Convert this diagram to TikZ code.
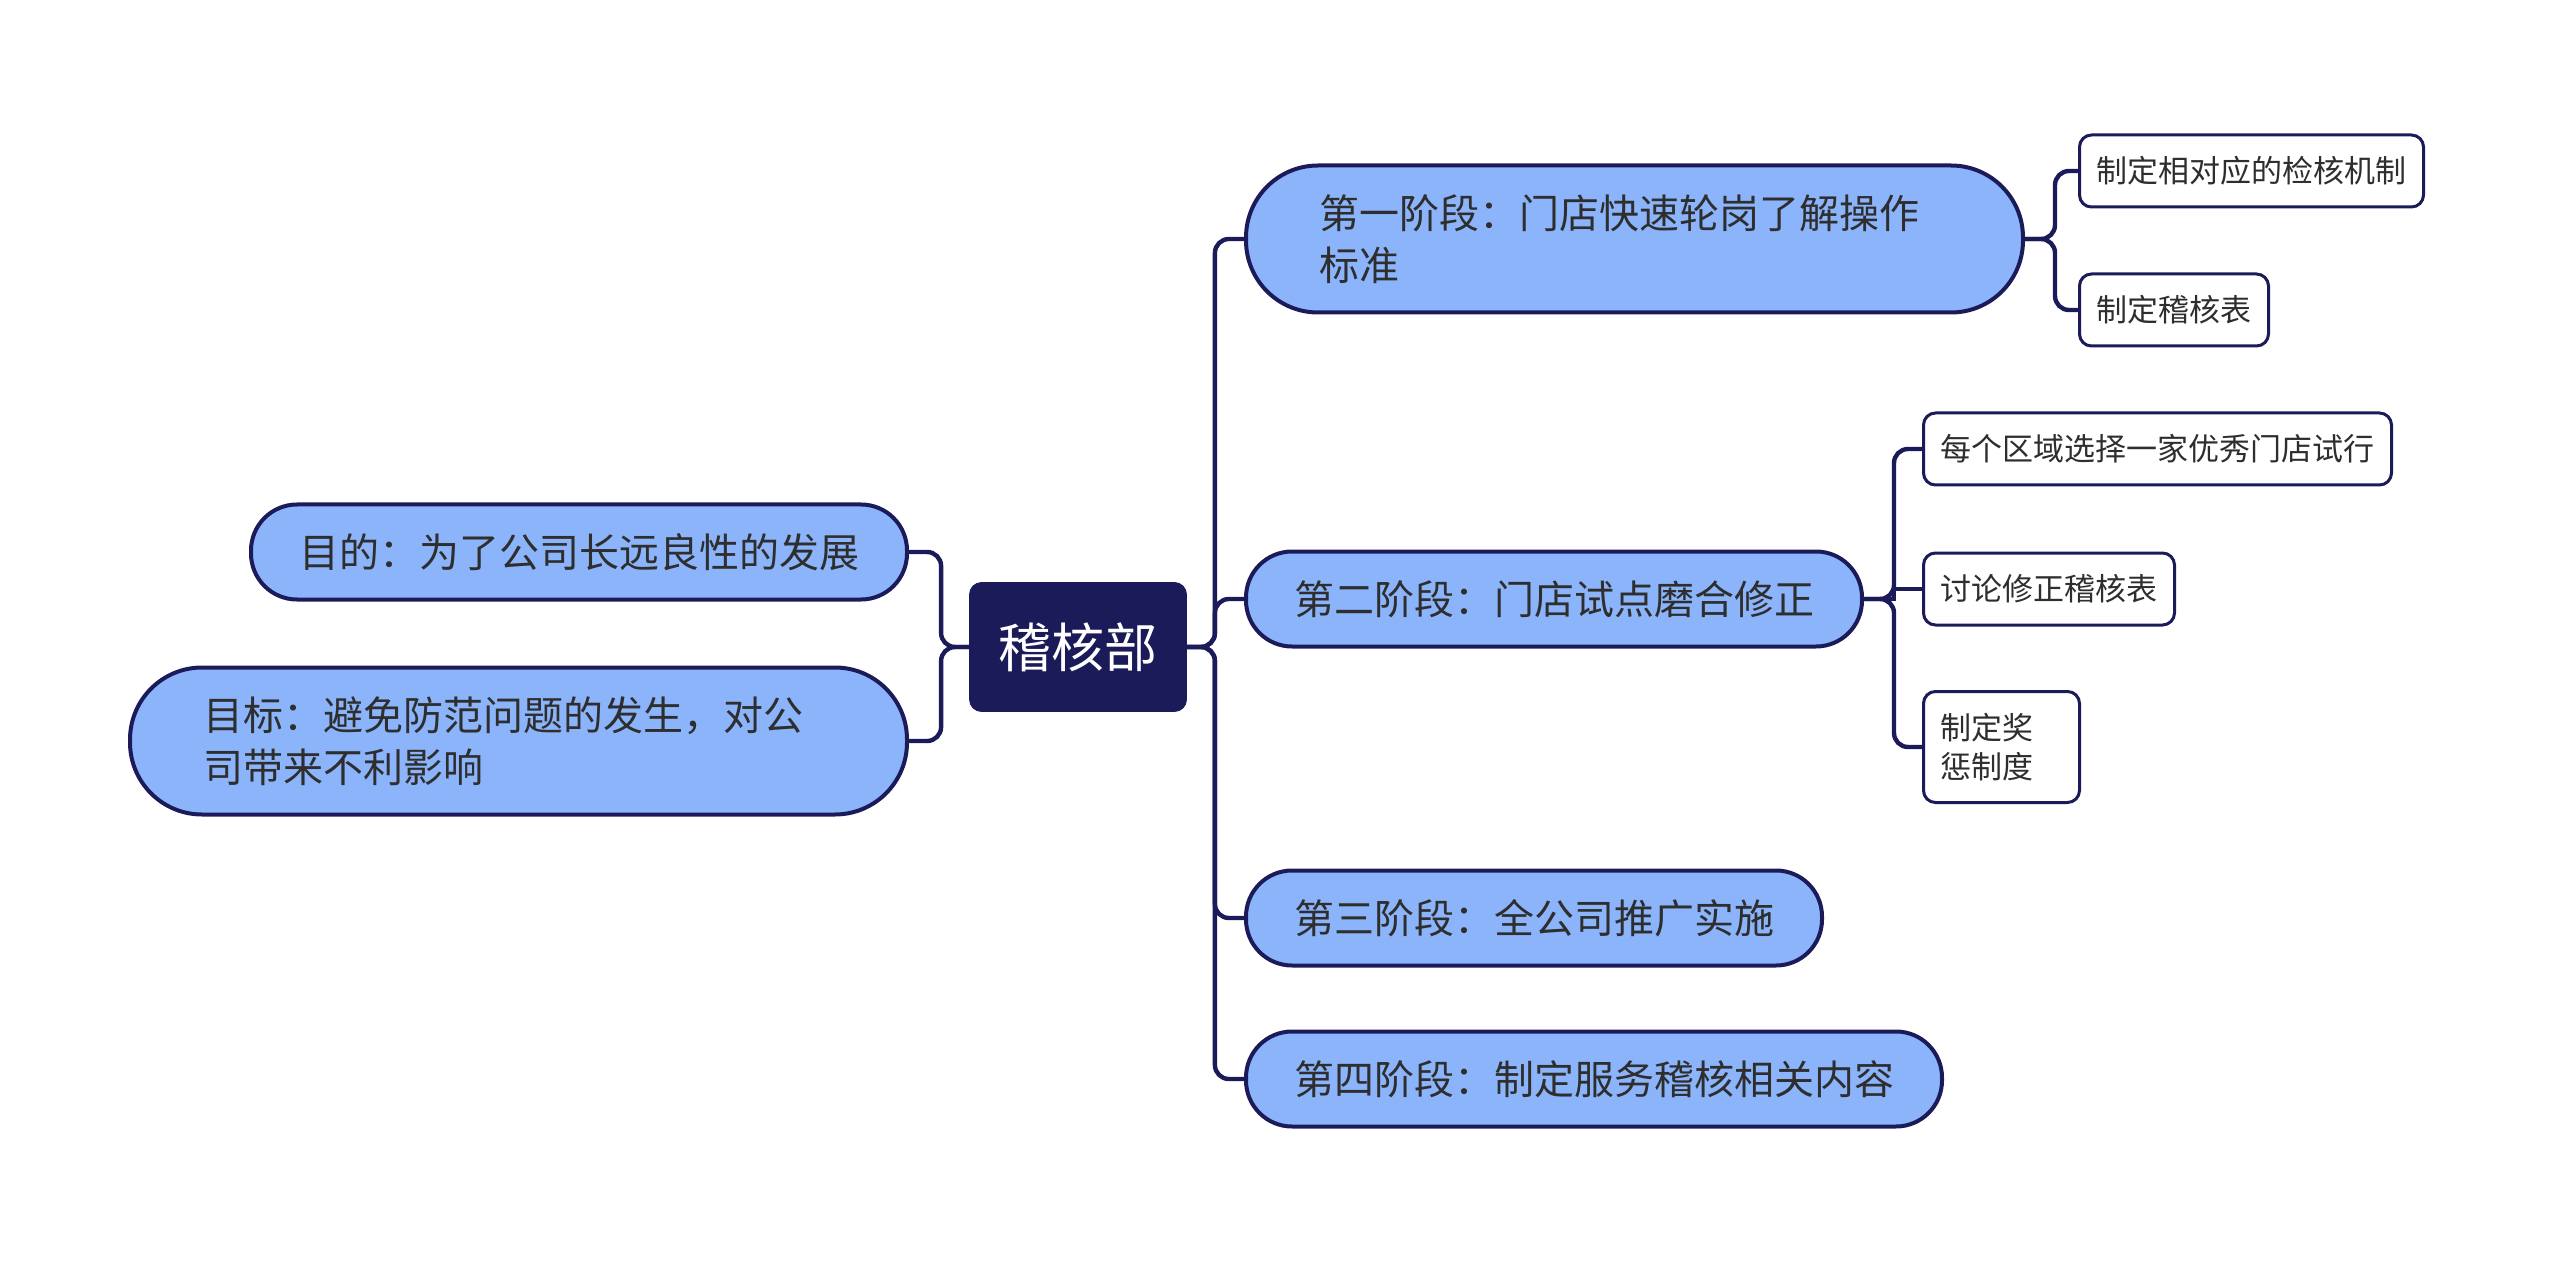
\documentclass[tikz,border=0pt]{standalone}
\usepackage{fontspec}
\setmainfont{Noto Sans CJK SC}
\usetikzlibrary{positioning}
\definecolor{navy}{HTML}{1C1B5A}
\definecolor{pillblue}{HTML}{8BB4FB}
\definecolor{inkgray}{HTML}{2E2E2E}
\tikzset{
  link/.style={draw=navy, line width=2.2pt, rounded corners=7pt},
  rootbox/.style={fill=navy, draw=navy, rounded corners=6pt, text=white,
    font=\fontsize{26.5}{30}\selectfont, minimum width=108.5pt, minimum height=64.5pt},
  stagebox/.style={fill=pillblue, draw=navy, line width=2pt, rounded corners=23pt,
    text=inkgray, font=\fontsize{20}{26}\selectfont, inner xsep=24pt, minimum height=47.5pt},
  widebox/.style={stagebox, rounded corners=36pt, align=left, text width=315pt,
    inner xsep=36.75pt, minimum height=73.5pt},
  leafbox/.style={fill=white, draw=navy, line width=1.5pt, rounded corners=6pt,
    text=inkgray, font=\fontsize{15.5}{19.5}\selectfont, inner xsep=8.5pt, minimum height=36pt},
}
\begin{document}
\begin{tikzpicture}[x=0.5pt, y=-0.5pt]
    \useasboundingbox (0,0) rectangle (2560,1262);
    % root
    \node[rootbox] (root) at (1078,647) {稽核部};
    % right side
    \node[widebox, anchor=west] (s1) at (1244,239) {第一阶段：门店快速轮岗了解操作\\标准};
    \node[stagebox, anchor=west] (s2) at (1244,599) {第二阶段：门店试点磨合修正};
    \node[stagebox, anchor=west] (s3) at (1244,918) {第三阶段：全公司推广实施};
    \node[stagebox, anchor=west] (s4) at (1244,1079) {第四阶段：制定服务稽核相关内容};
    % left side
    \node[stagebox, anchor=east] (l1) at (909,552) {目的：为了公司长远良性的发展};
    \node[widebox, anchor=east] (l2) at (909,741) {目标：避免防范问题的发生，对公\\司带来不利影响};
    % leaves
    \node[leafbox, anchor=west] (a1) at (2078,171) {制定相对应的检核机制};
    \node[leafbox, anchor=west] (a2) at (2078,310) {制定稽核表};
    \node[leafbox, anchor=west] (b1) at (1922,449) {每个区域选择一家优秀门店试行};
    \node[leafbox, anchor=west] (b2) at (1922,589) {讨论修正稽核表};
    \node[leafbox, anchor=west, align=left, text width=61pt, minimum height=55.5pt] (b3) at (1922,747) {制定奖\\惩制度};
    % connectors
    \foreach \n in {s1,s2,s3,s4}
        \draw[link] (root.east) -- ++(28,0) |- (\n.west);
    \foreach \n in {l1,l2}
        \draw[link] (root.west) -- ++(-28,0) |- (\n.east);
    \foreach \n in {a1,a2}
        \draw[link] (s1.east) -- ++(30,0) |- (\n.west);
    \foreach \n in {b1,b3}
        \draw[link] (s2.east) -- ++(30,0) |- (\n.west);
    \draw[link, sharp corners] (s2.east) -- ++(30,0) |- (b2.west);
\end{tikzpicture}
\end{document}
